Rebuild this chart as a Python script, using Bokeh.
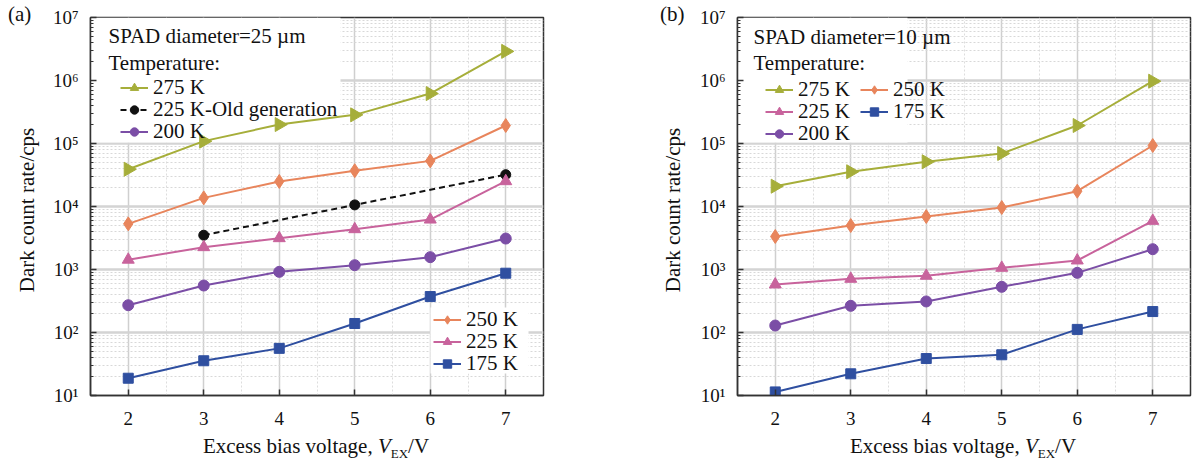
import numpy as np
from bokeh.plotting import figure
from bokeh.models import (FixedTicker, CustomJSTickFormatter, Label, Legend,
                          LegendItem, Range1d, Div, BoxAnnotation)
from bokeh.layouts import row, column
from bokeh.embed import file_html
from bokeh.resources import INLINE

# ---------------- data ----------------
bias_v = [2, 3, 4, 5, 6, 7]
old_gen_v = [3, 5, 7]

a_275 = [3.9e4, 1.09e5, 2.0e5, 2.85e5, 6.2e5, 2.9e6]
a_250 = [5.3e3, 1.37e4, 2.5e4, 3.7e4, 5.3e4, 1.93e5]
a_225_old = [3.5e3, 1.06e4, 3.2e4]
a_225 = [1.43e3, 2.26e3, 3.14e3, 4.36e3, 6.2e3, 2.52e4]
a_200 = [271, 557, 918, 1170, 1570, 3100]
a_175 = [18.8, 35.6, 56, 139, 372, 873]

b_275 = [2.1e4, 3.56e4, 5.13e4, 6.94e4, 1.93e5, 9.75e5]
b_250 = [3340, 4990, 6930, 9640, 1.75e4, 9.29e4]
b_225 = [578, 711, 794, 1063, 1390, 5910]
b_200 = [129, 265, 311, 531, 885, 2100]
b_175 = [11.4, 22.1, 38.6, 44.3, 112, 215]

x_ticks = [2, 3, 4, 5, 6, 7]
x_minor = [1.5, 2.5, 3.5, 4.5, 5.5, 6.5, 7.5]
y_ticks = [1e1, 1e2, 1e3, 1e4, 1e5, 1e6, 1e7]
y_minor = [k * 10.0 ** n for n in range(1, 7) for k in range(2, 10)]

FONT = "Liberation Serif"
C275, C250, C225, C200, C175 = "#a6ae3a", "#e8855c", "#c8639c", "#7b4ea6", "#2f4fa0"

SUP = "const s=['\\u2070','\\u00b9','\\u00b2','\\u00b3','\\u2074','\\u2075','\\u2076','\\u2077','\\u2078','\\u2079'];" \
      "return '10' + s[Math.round(Math.log10(tick))];"

FIG_H = 439
FRAME_H = 378


def base_fig(width, bl, br):
    p = figure(width=width, height=FIG_H, x_range=Range1d(1.5, 7.5), y_range=Range1d(10, 1e7),
               y_axis_type="log", output_backend="svg", toolbar_location=None,
               min_border_left=bl, min_border_right=br, min_border_top=17, min_border_bottom=44)
    xt = FixedTicker(ticks=x_ticks, minor_ticks=x_minor)
    yt = FixedTicker(ticks=y_ticks, minor_ticks=y_minor)
    p.xaxis.ticker = xt
    p.yaxis.ticker = yt
    p.xgrid.ticker = xt
    p.ygrid.ticker = yt
    p.yaxis.formatter = CustomJSTickFormatter(code=SUP)
    for ax in (p.xaxis, p.yaxis):
        ax.major_tick_in = 6
        ax.major_tick_out = 0
        ax.minor_tick_in = 3
        ax.minor_tick_out = 0
        ax.axis_line_color = "#333333"
        ax.axis_line_width = 1.5
        ax.major_tick_line_color = "#333333"
        ax.major_tick_line_width = 1.5
        ax.minor_tick_line_color = "#333333"
        ax.major_label_text_font = FONT
        ax.major_label_text_font_size = "19px"
        ax.major_label_text_color = "#111111"
    p.xaxis.minor_tick_line_color = None
    p.xaxis.major_label_standoff = 16
    p.yaxis.major_label_standoff = 12
    p.outline_line_color = "#333333"
    p.outline_line_width = 1.5
    p.outline_line_alpha = 1
    p.xgrid.grid_line_color = "#cfcfcf"
    p.xgrid.grid_line_width = 1.5
    p.xgrid.minor_grid_line_color = "#dddddd"
    p.xgrid.minor_grid_line_dash = "2 2"
    p.ygrid.grid_line_color = "#d4d4d4"
    p.ygrid.grid_line_width = 2.5
    p.ygrid.minor_grid_line_color = "#d8d8d8"
    p.ygrid.minor_grid_line_dash = "2 2"
    return p


def white_box(p, l, r, b, t):
    p.add_layout(BoxAnnotation(left=l, right=r, bottom=b, top=t, left_units="screen",
                               right_units="screen", bottom_units="screen", top_units="screen",
                               fill_color="white", fill_alpha=1, line_color=None, level="underlay"))


def series(p, x, y, color, marker, size, angle=0.0, dash="solid"):
    l = p.line(x, y, line_color=color, line_width=2, line_dash=dash)
    s = p.scatter(x, y, marker=marker, size=size, angle=angle, fill_color=color, line_color=color)
    return [l, s]


def legend_row(p, label, rends, vx, vy):
    lg = Legend(items=[LegendItem(label=label, renderers=rends)], location=(vx, vy),
                padding=0, margin=0, spacing=0, glyph_width=28, glyph_height=21,
                label_height=21, label_standoff=5, label_text_font=FONT,
                label_text_font_size="21px", label_text_color="#111111",
                border_line_color=None, background_fill_alpha=0)
    p.add_layout(lg)


def text(p, x, y, s):
    p.add_layout(Label(x=x, y=y, x_units="screen", y_units="screen", text=s, text_font=FONT,
                       text_font_size="21px", text_color="#111111", text_baseline="middle",
                       text_align="left"))


TXT = "font-family:'Liberation Serif',serif;font-size:21px;color:#111;white-space:nowrap;"


def side_div(width, panel, px, lab_x, lab_y):
    html = (f"<div style=\"position:relative;width:{width}px;height:{FIG_H}px;{TXT}\">"
            f"<div style=\"position:absolute;left:{px}px;top:4px;line-height:20px;\">{panel}</div>"
            f"<div style=\"position:absolute;left:{lab_x}px;top:{lab_y}px;line-height:22px;"
            f"transform:translate(-50%,-50%) rotate(-90deg);\">Dark count rate/cps</div></div>")
    return Div(text=html, width=width, height=FIG_H, margin=0)


def xlabel_div(width, center):
    html = (f"<div style=\"position:relative;top:-3px;width:{2 * center}px;height:20px;text-align:center;"
            f"line-height:20px;{TXT}\">"
            "Excess bias voltage, <i>V</i><span style=\"font-size:13px;position:relative;top:5px;\">EX</span>/V</div>")
    return Div(text=html, width=width, height=24, margin=0)


RIGHT = -np.pi / 2

# ---------------- panel (a) ----------------
pa = base_fig(604, 42, 109)
white_box(pa, 0, 250, 253, FRAME_H)
white_box(pa, 340, 438, 22, 88)
r275 = series(pa, bias_v, a_275, C275, "triangle", 14, RIGHT)
r250 = series(pa, bias_v, a_250, C250, "diamond", 14)
rold = series(pa, old_gen_v, a_225_old, "#111111", "circle", 10, dash="6 4")
r225 = series(pa, bias_v, a_225, C225, "triangle", 12)
r200 = series(pa, bias_v, a_200, C200, "circle", 11)
r175 = series(pa, bias_v, a_175, C175, "square", 10)
text(pa, 18, 360, "SPAD diameter=25 \u00b5m")
text(pa, 18, 333, "Temperature:")
legend_row(pa, "275 K", r275, 30, 295)
legend_row(pa, "225 K-Old generation", rold, 30, 273)
legend_row(pa, "200 K", r200, 30, 251)
legend_row(pa, "250 K", r250, 343, 63)
legend_row(pa, "225 K", r225, 343, 41)
legend_row(pa, "175 K", r175, 343, 19)

# ---------------- panel (b) ----------------
pb = base_fig(497, 42, 2)
white_box(pb, 0, 170, 253, FRAME_H)
s275 = series(pb, bias_v, b_275, C275, "triangle", 14, RIGHT)
s250 = series(pb, bias_v, b_250, C250, "diamond", 14)
s225 = series(pb, bias_v, b_225, C225, "triangle", 12)
s200 = series(pb, bias_v, b_200, C200, "circle", 11)
s175 = series(pb, bias_v, b_175, C175, "square", 10)
text(pb, 16, 359, "SPAD diameter=10 \u00b5m")
text(pb, 16, 333, "Temperature:")
legend_row(pb, "275 K", s275, 28, 293)
legend_row(pb, "225 K", s225, 28, 271)
legend_row(pb, "200 K", s200, 28, 249)
legend_row(pb, "250 K", s250, 123, 293)
legend_row(pb, "175 K", s175, 123, 271)

left_a = side_div(48, "(a)", 8, 27, 210)
left_b = side_div(43, "(b)", 8, 21, 210)
col_a = column(pa, xlabel_div(604, 268))
col_b = column(pb, xlabel_div(497, 268))

layout = row(left_a, col_a, left_b, col_b)
open("out.html", "w", encoding="utf-8").write(file_html(layout, INLINE))
